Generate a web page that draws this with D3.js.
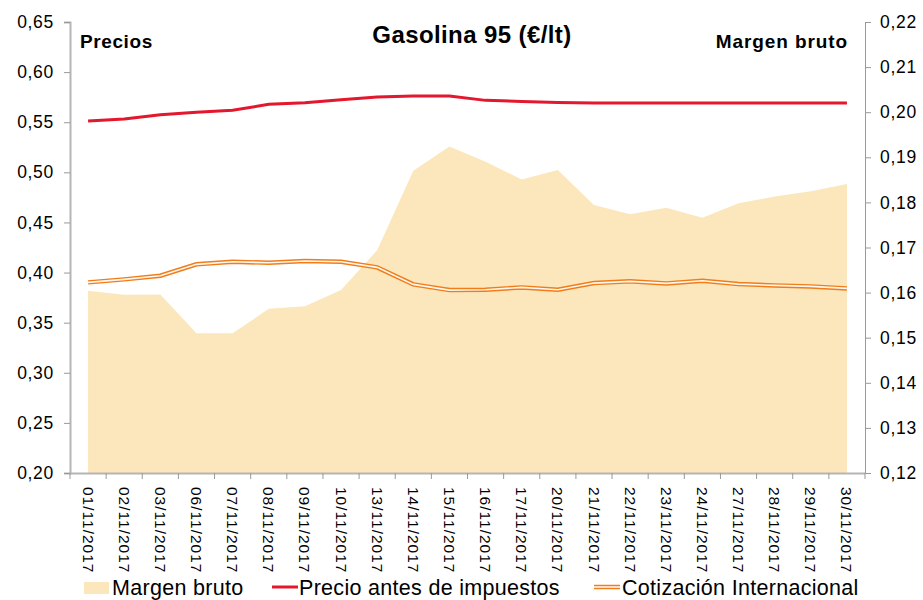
<!DOCTYPE html>
<html>
<head>
<meta charset="utf-8">
<script src="https://cdn.jsdelivr.net/npm/d3@7"></script>
<style>
  body { margin: 0; background: #fff; }
  text { font-family: "Liberation Sans", Arial, sans-serif; fill: #000; }
</style>
</head>
<body>
<div id="chart"></div>
<script>
// data
const fechas = ["01/11/2017","02/11/2017","03/11/2017","06/11/2017","07/11/2017","08/11/2017",
  "09/11/2017","10/11/2017","13/11/2017","14/11/2017","15/11/2017","16/11/2017","17/11/2017",
  "20/11/2017","21/11/2017","22/11/2017","23/11/2017","24/11/2017","27/11/2017","28/11/2017",
  "29/11/2017","30/11/2017"];
const margenBruto = [0.1604,0.1595,0.1596,0.1510,0.1510,0.1564,0.1570,0.1606,0.1694,0.1870,0.1924,
  0.1890,0.1851,0.1872,0.1794,0.1774,0.1788,0.1766,0.1798,0.1813,0.1825,0.1841];
const precioAntes = [0.5512,0.5532,0.5575,0.5599,0.5619,0.5679,0.5695,0.5725,0.5752,0.5762,0.5762,
  0.5718,0.5708,0.5698,0.5691,0.5691,0.5691,0.5691,0.5691,0.5691,0.5691,0.5691];
const cotizacion = [0.3902,0.3932,0.3968,0.4082,0.4108,0.4098,0.4115,0.4108,0.4052,0.3882,0.3825,
  0.3829,0.3852,0.3829,0.3895,0.3912,0.3892,0.3918,0.3885,0.3872,0.3862,0.3842];
const ticksIzq = [0.20,0.25,0.30,0.35,0.40,0.45,0.50,0.55,0.60,0.65];
const ticksDer = [0.12,0.13,0.14,0.15,0.16,0.17,0.18,0.19,0.20,0.21,0.22];

const W = 923, H = 600;
const margin = {top: 22, right: 58, bottom: 127, left: 70},
      width = W - margin.left - margin.right,
      height = H - margin.top - margin.bottom;

const svg = d3.select("#chart").append("svg")
    .attr("width", W).attr("height", H)
  .append("g")
    .attr("transform", `translate(${margin.left},${margin.top})`);

const x = d3.scaleBand().domain(fechas).range([0, width]);
const yL = d3.scaleLinear().domain([0.20, 0.65]).range([height, 0]);
const yR = d3.scaleLinear().domain([0.12, 0.22]).range([height, 0]);
const fmt = d => d3.format(".2f")(d).replace(".", ",");
const cx = d => x(d) + x.bandwidth() / 2;

// area margen bruto
svg.append("path")
  .datum(margenBruto)
  .attr("fill", "#fce7bc")
  .attr("d", d3.area()
    .x((d, i) => cx(fechas[i]))
    .y0(height)
    .y1(d => yR(d)));

// precio antes de impuestos
svg.append("path")
  .datum(precioAntes)
  .attr("fill", "none")
  .attr("stroke", "#e3172d")
  .attr("stroke-width", 3)
  .attr("d", d3.line().x((d, i) => cx(fechas[i])).y(d => yL(d)));

// cotizacion internacional (double line)
const lineaCot = d3.line().x((d, i) => cx(fechas[i])).y(d => yL(d));
svg.append("path").datum(cotizacion)
  .attr("fill", "none").attr("stroke", "#f07d1a").attr("stroke-width", 4.5)
  .attr("d", lineaCot);
svg.append("path").datum(cotizacion)
  .attr("fill", "none").attr("stroke", "#fff6ee").attr("stroke-width", 1.6)
  .attr("d", lineaCot);

// axes
const axisL = svg.append("g")
  .call(d3.axisLeft(yL).tickValues(ticksIzq).tickFormat(fmt).tickSize(6).tickPadding(10));
axisL.select(".domain").attr("stroke", "#b5b5b5").attr("stroke-width", 2);
axisL.selectAll(".tick line").attr("stroke", "#999");
axisL.selectAll("text").attr("font-size", 17.5).style("letter-spacing", "0.7px");

const axisR = svg.append("g")
  .attr("transform", `translate(${width},0)`)
  .call(d3.axisRight(yR).tickValues(ticksDer).tickFormat(fmt).tickSize(6).tickPadding(9));
axisR.select(".domain").attr("stroke", "#999");
axisR.selectAll(".tick line").attr("stroke", "#999");
axisR.selectAll("text").attr("font-size", 17.5).style("letter-spacing", "0.7px");

const axisB = svg.append("g")
  .attr("transform", `translate(0,${height})`)
  .call(d3.axisBottom(x).tickSize(0));
axisB.select(".domain").attr("stroke", "#b5b5b5").attr("stroke-width", 2);
axisB.selectAll(".tick text")
  .attr("font-size", 15.5)
  .style("letter-spacing", "1px")
  .attr("transform", "rotate(90)")
  .attr("text-anchor", "start")
  .attr("x", 14)
  .attr("y", 0)
  .attr("dy", "0.35em");
// band boundary ticks
svg.append("g")
  .selectAll("line")
  .data(fechas.concat(["fin"]))
  .join("line")
    .attr("x1", (d, i) => i < fechas.length ? x(d) : width)
    .attr("x2", (d, i) => i < fechas.length ? x(d) : width)
    .attr("y1", height).attr("y2", height + 6)
    .attr("stroke", "#999");

// titles
svg.append("text")
  .attr("x", 402).attr("y", 21)
  .attr("text-anchor", "middle")
  .attr("font-size", 24).attr("font-weight", "bold")
  .style("letter-spacing", "0.4px")
  .text("Gasolina 95 (€/lt)");
svg.append("text")
  .attr("x", 10).attr("y", 26)
  .attr("font-size", 19).attr("font-weight", "bold")
  .style("letter-spacing", "0.6px")
  .text("Precios");
svg.append("text")
  .attr("x", width - 17).attr("y", 26)
  .attr("text-anchor", "end")
  .attr("font-size", 19).attr("font-weight", "bold")
  .style("letter-spacing", "0.9px")
  .text("Margen bruto");

// legend
const leg = d3.select("svg").append("g").attr("transform", "translate(0,587)");
leg.append("rect").attr("x", 84).attr("y", -5).attr("width", 25).attr("height", 12).attr("fill", "#fce7bc");
leg.append("text").attr("x", 112).attr("y", 0).attr("dy", "0.35em").attr("font-size", 21.5).style("letter-spacing", "0.3px").text("Margen bruto");
leg.append("line").attr("x1", 272).attr("x2", 298).attr("y1", 0).attr("y2", 0)
  .attr("stroke", "#e3172d").attr("stroke-width", 3);
leg.append("text").attr("x", 299).attr("y", 0).attr("dy", "0.35em").attr("font-size", 21.5).style("letter-spacing", "0.3px").text("Precio antes de impuestos");
leg.append("line").attr("x1", 594).attr("x2", 620).attr("y1", 0).attr("y2", 0)
  .attr("stroke", "#f07d1a").attr("stroke-width", 4.5);
leg.append("line").attr("x1", 594).attr("x2", 620).attr("y1", 0).attr("y2", 0)
  .attr("stroke", "#fff6ee").attr("stroke-width", 1.6);
leg.append("text").attr("x", 622).attr("y", 0).attr("dy", "0.35em").attr("font-size", 21.5).style("letter-spacing", "0.3px").text("Cotización Internacional");
</script>
</body>
</html>
